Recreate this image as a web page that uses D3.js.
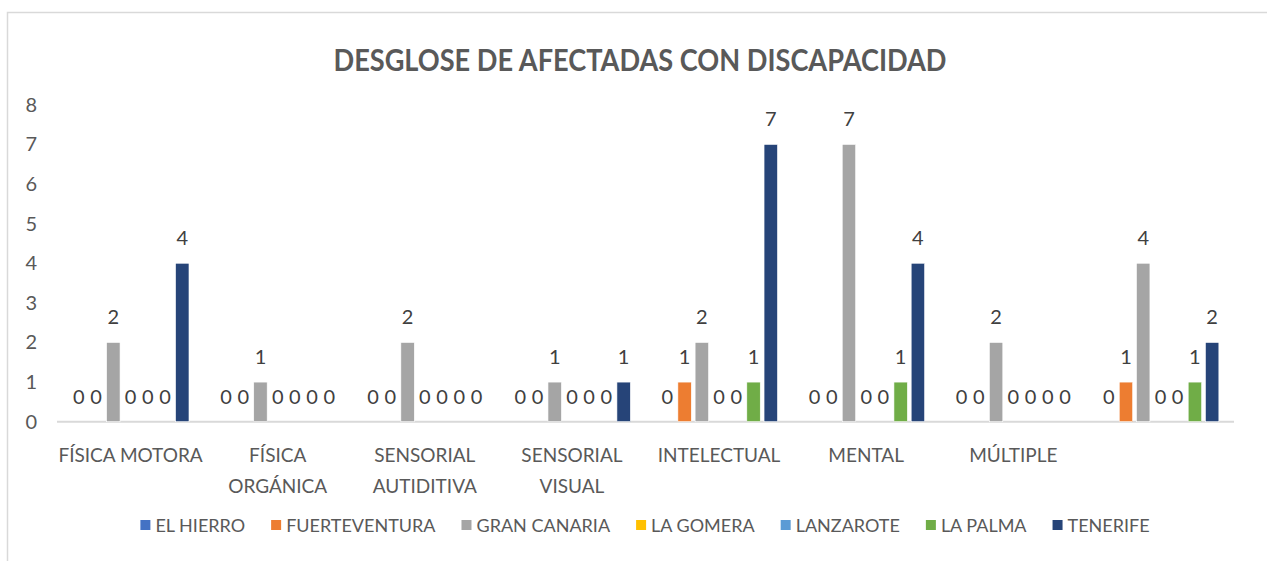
<!DOCTYPE html>
<html>
<head>
<meta charset="utf-8">
<script src="https://cdn.jsdelivr.net/npm/d3@7"></script>
<style>
  body { margin: 0; background: #fff; }
  svg text { font-family: Lato, "Open Sans", sans-serif; }
</style>
</head>
<body>
<div id="chart"></div>
<script>
// ----------------
// Desglose de afectadas con discapacidad
// ----------------

const categories = ["FÍSICA MOTORA", "FÍSICA ORGÁNICA", "SENSORIAL AUTIDITIVA", "SENSORIAL VISUAL",
    "INTELECTUAL", "MENTAL", "MÚLTIPLE", ""];
const series = ["EL HIERRO", "FUERTEVENTURA", "GRAN CANARIA", "LA GOMERA", "LANZAROTE", "LA PALMA", "TENERIFE"];
const colors = ["#4472C4", "#ED7D31", "#A5A5A5", "#FFC000", "#5B9BD5", "#70AD47", "#264478"];

// one array per island, in category order
const elHierro = [0, 0, 0, 0, 0, 0, 0, 0];
const fuerteventura = [0, 0, 0, 0, 1, 0, 0, 1];
const granCanaria = [2, 1, 2, 1, 2, 7, 2, 4];
const laGomera = [0, 0, 0, 0, 0, 0, 0, 0];
const lanzarote = [0, 0, 0, 0, 0, 0, 0, 0];
const laPalma = [0, 0, 0, 0, 1, 1, 0, 1];
const tenerife = [4, 0, 0, 1, 7, 4, 0, 2];
const values = [elHierro, fuerteventura, granCanaria, laGomera, lanzarote, laPalma, tenerife];

const yTicks = [0, 1, 2, 3, 4, 5, 6, 7, 8];

const W = 1267, H = 561;
const plot = { left: 57, right: 1234, top: 104.8, bottom: 421.7 };

const svg = d3.select("#chart").append("svg")
    .attr("width", W)
    .attr("height", H);

// chart border (mostly cropped)
svg.append("rect")
    .attr("x", 7.5).attr("y", 12.5)
    .attr("width", W + 20).attr("height", H + 20)
    .attr("fill", "none")
    .attr("stroke", "#D9D9D9")
    .attr("stroke-width", 1.5);

// title
const title = svg.append("text")
    .attr("x", 640).attr("y", 71)
    .attr("text-anchor", "middle")
    .attr("fill", "#595959")
    .style("font-size", "30px")
    .style("font-weight", "bold")
    .text("DESGLOSE DE AFECTADAS CON DISCAPACIDAD");
// squeeze to the width of the original (condensed face)
title.attr("textLength", 613).attr("lengthAdjust", "spacingAndGlyphs");

// scales
const x0 = d3.scaleBand()
    .domain(d3.range(categories.length))
    .range([plot.left, plot.right])
    .paddingInner(0.18)
    .paddingOuter(0.09);

const x1 = d3.scaleBand()
    .domain(series)
    .range([0, x0.bandwidth()])
    .paddingInner(0.22)
    .paddingOuter(0.11);

const y = d3.scaleLinear()
    .domain([0, 8])
    .range([plot.bottom, plot.top]);

// Y axis: labels only
const yAxis = svg.append("g")
    .attr("transform", `translate(${plot.left - 20},0)`)
    .call(d3.axisLeft(y).tickValues(yTicks).tickSize(0).tickPadding(0));
yAxis.select(".domain").remove();
yAxis.selectAll("text")
    .attr("fill", "#595959")
    .style("font-size", "20px")
    .style("font-family", "Lato, \"Open Sans\", sans-serif");

// baseline
svg.append("line")
    .attr("x1", plot.left).attr("x2", plot.right)
    .attr("y1", y(0)).attr("y2", y(0))
    .attr("stroke", "#D9D9D9")
    .attr("stroke-width", 2);

// bars
const rows = categories.map((c, i) => ({ i: i, vals: series.map((s, j) => ({ s: s, j: j, v: values[j][i] })) }));

const groups = svg.append("g")
    .selectAll("g")
    .data(rows)
    .join("g")
    .attr("transform", d => `translate(${x0(d.i)},0)`);

groups.selectAll("rect")
    .data(d => d.vals.filter(e => e.v > 0))
    .join("rect")
    .attr("x", d => x1(d.s))
    .attr("y", d => y(d.v))
    .attr("width", x1.bandwidth())
    .attr("height", d => y(0) - y(d.v))
    .attr("fill", d => colors[d.j])
    .attr("stroke", "#fff")
    .attr("stroke-width", 0.6);

// data labels
groups.selectAll("text")
    .data(d => d.vals)
    .join("text")
    .attr("x", d => x1(d.s) + x1.bandwidth() / 2)
    .attr("y", d => y(d.v) - 18)
    .attr("text-anchor", "middle")
    .attr("fill", "#404040")
    .style("font-size", "20px")
    .text(d => d.v);

// category labels, wrapped to the band width
const catG = svg.append("g");
categories.forEach((c, i) => {
    const cx = x0(i) + x0.bandwidth() / 2;
    const t = catG.append("text")
        .attr("x", cx)
        .attr("y", 462)
        .attr("text-anchor", "middle")
        .attr("fill", "#595959")
        .style("font-size", "19px");
    const words = c.split(" ");
    let line = [];
    let tspan = t.append("tspan").attr("x", cx).attr("dy", 0);
    words.forEach(w => {
        line.push(w);
        tspan.text(line.join(" "));
        if (tspan.node().getComputedTextLength() > x0.step() + 2 && line.length > 1) {
            line.pop();
            tspan.text(line.join(" "));
            line = [w];
            tspan = t.append("tspan").attr("x", cx).attr("dy", 31).text(w);
        }
    });
});

// legend
const legend = svg.append("g");
const gap = 26;
let lx = 0;
series.forEach((s, j) => {
    const g = legend.append("g").attr("transform", `translate(${lx},0)`);
    g.append("rect")
        .attr("x", 0).attr("y", -5)
        .attr("width", 10).attr("height", 10)
        .attr("fill", colors[j]);
    const t = g.append("text")
        .attr("x", 15).attr("y", 7)
        .attr("fill", "#595959")
        .style("font-size", "18px")
        .text(s);
    lx += 15 + t.node().getComputedTextLength() + gap;
});
const legendW = lx - gap;
legend.attr("transform", `translate(${645 - legendW / 2},525)`);
</script>
</body>
</html>
